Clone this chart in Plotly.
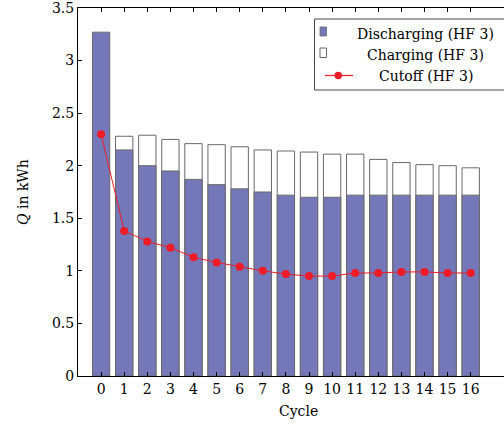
import plotly.graph_objects as go

cycles = list(range(17))
discharging = [3.27, 2.15, 2.00, 1.95, 1.87, 1.82, 1.78, 1.75, 1.72, 1.70, 1.70, 1.72, 1.72, 1.72, 1.72, 1.72, 1.72]
charging = [None, 2.28, 2.29, 2.25, 2.21, 2.20, 2.18, 2.15, 2.14, 2.13, 2.11, 2.11, 2.06, 2.03, 2.01, 2.00, 1.98]
cutoff = [2.30, 1.38, 1.28, 1.22, 1.13, 1.08, 1.04, 1.00, 0.97, 0.95, 0.95, 0.98, 0.98, 0.99, 0.99, 0.98, 0.98]
y_ticks = [0, 0.5, 1, 1.5, 2, 2.5, 3, 3.5]
y_ticklabels = ["0", "0.5", "1", "1.5", "2", "2.5", "3", "3.5"]
legend_names = ["Discharging (HF 3)", "Charging (HF 3)", "Cutoff (HF 3)"]

FONT = "DejaVu Serif"
BLUE = "#7477b8"
RED = "#ec1c28"
EDGE = "rgb(105,105,105)"

fig = go.Figure()
fig.add_trace(go.Bar(x=cycles, y=charging, width=0.75, name=legend_names[1],
                     marker=dict(color="white", line=dict(color=EDGE, width=1))))
fig.add_trace(go.Bar(x=cycles, y=discharging, width=0.75, name=legend_names[0],
                     marker=dict(color=BLUE, line=dict(color=EDGE, width=1))))
fig.add_trace(go.Scatter(x=cycles, y=cutoff, mode="lines+markers", name=legend_names[2],
                         line=dict(color=RED, width=1),
                         marker=dict(color=RED, size=8, line=dict(width=0))))

L, T, B = 78, 8, 48
W, H = 504, 424
pw, ph = W - L, H - T - B

def px(x):
    return (x - L) / pw

def py(y):
    return (H - B - y) / ph

shapes = [
    dict(type="rect", xref="paper", yref="paper", x0=px(314.5), x1=px(520), y0=py(90), y1=py(19),
         line=dict(color="rgb(70,70,70)", width=1), fillcolor="white", layer="above"),
    dict(type="rect", xref="paper", yref="paper", x0=px(320), x1=px(326.5), y0=py(36), y1=py(27),
         line=dict(color=EDGE, width=0.8), fillcolor=BLUE, layer="above"),
    dict(type="rect", xref="paper", yref="paper", x0=px(320), x1=px(326.5), y0=py(57.5), y1=py(48),
         line=dict(color=EDGE, width=1), fillcolor="white", layer="above"),
    dict(type="line", xref="paper", yref="paper", x0=px(325), x1=px(353), y0=py(75.5), y1=py(75.5),
         line=dict(color=RED, width=1.2), layer="above"),
    dict(type="circle", xref="paper", yref="paper", x0=px(334.5), x1=px(342), y0=py(79.2), y1=py(71.8),
         line=dict(width=0), fillcolor=RED, layer="above"),
]

txt = dict(family=FONT, size=14, color="black")
annotations = [
    dict(text=legend_names[0], xref="paper", yref="paper", x=px(425.5), y=py(34), xanchor="center",
         yanchor="middle", showarrow=False, font=txt),
    dict(text=legend_names[1], xref="paper", yref="paper", x=px(425.5), y=py(54.5), xanchor="center",
         yanchor="middle", showarrow=False, font=txt),
    dict(text=legend_names[2], xref="paper", yref="paper", x=px(425.5), y=py(76), xanchor="center",
         yanchor="middle", showarrow=False, font=txt),
    dict(text="Cycle", xref="paper", yref="paper", x=px(298), y=py(411), xanchor="center",
         yanchor="middle", showarrow=False, font=txt),
    dict(text="<i>Q</i> in kWh", xref="paper", yref="paper", x=px(23), y=py(192), xanchor="center",
         yanchor="middle", textangle=-90, showarrow=False, font=txt),
]

fig.update_layout(
    width=W, height=H,
    margin=dict(l=L, r=0, t=T, b=B, pad=0),
    barmode="overlay",
    showlegend=False,
    plot_bgcolor="white", paper_bgcolor="white",
    font=txt,
    shapes=shapes, annotations=annotations,
    xaxis=dict(range=[-1, -1 + pw / 23.1], tickmode="array", tickvals=cycles,
               ticktext=[str(c) for c in cycles], ticks="inside", ticklen=4, tickwidth=1,
               tickcolor="black", showline=True, linecolor="black", linewidth=1,
               mirror="ticks", showgrid=False, zeroline=False, fixedrange=True,
               tickfont=txt, ticklabeloverflow="allow"),
    yaxis=dict(range=[0, 3.5], tickmode="array", tickvals=y_ticks, ticktext=y_ticklabels,
               ticks="inside", ticklen=4, tickwidth=1, tickcolor="black",
               showline=True, linecolor="black", linewidth=1, showgrid=False,
               zeroline=False, fixedrange=True, tickfont=txt, ticklabeloverflow="allow"),
)

fig.write_html("out.html")
